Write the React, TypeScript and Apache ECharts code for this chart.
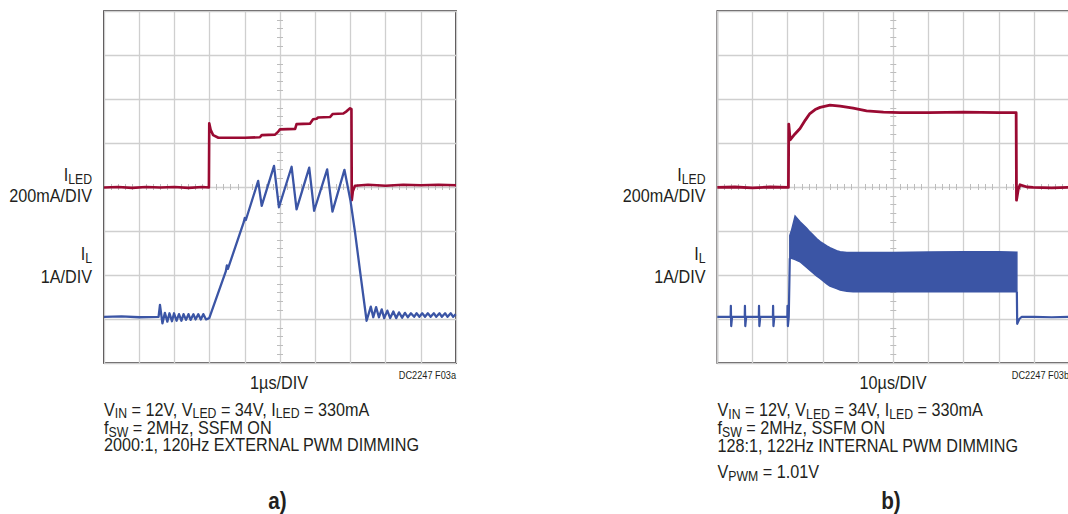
import React, { useEffect, useRef } from "react";
import * as echarts from "echarts";

// ---------- data (divisions: x 0..10, y 0..8 from bottom) ----------
const leftILed: number[][] = [
  [0, 3.99], [0.4, 4.0], [0.8, 3.98], [1.2, 4.0], [1.6, 3.99], [2.0, 4.0], [2.4, 3.98], [2.8, 4.0], [2.98, 3.99],
  [2.99, 5.45], [3.03, 5.3], [3.1, 5.18], [3.25, 5.12], [3.6, 5.12], [4.0, 5.12], [4.43, 5.13], [4.48, 5.18],
  [4.86, 5.19], [4.95, 5.26], [5.0, 5.31], [5.43, 5.32], [5.47, 5.43], [5.85, 5.44], [5.94, 5.54], [6.04, 5.55],
  [6.08, 5.58], [6.42, 5.59], [6.5, 5.66], [6.8, 5.67], [6.89, 5.72], [6.99, 5.79], [7.03, 5.77],
  [7.04, 3.7], [7.07, 3.9], [7.13, 4.03], [7.5, 4.05], [8.0, 4.03], [8.5, 4.05], [9.0, 4.04], [9.5, 4.05], [10, 4.04],
];

const leftIL: number[][] = [
  [0, 1.05], [0.5, 1.06], [1.0, 1.04], [1.55, 1.05],
  [1.59, 1.32], [1.66, 0.9], [1.73, 1.14], [1.8, 0.94], [1.86, 1.13], [1.93, 0.95], [1.99, 1.13], [2.06, 0.96],
  [2.13, 1.11], [2.2, 0.96], [2.26, 1.11], [2.33, 0.98], [2.4, 1.11], [2.46, 0.98], [2.54, 1.11], [2.6, 0.99],
  [2.68, 1.11], [2.75, 0.99], [2.82, 1.11], [2.9, 0.99], [2.99, 1.02],
  [3.46, 2.08], [3.49, 2.22], [3.52, 2.14], [3.97, 3.2], [4.0, 3.3], [4.03, 3.25],
  [4.38, 4.14], [4.48, 3.57], [4.83, 4.48], [4.97, 3.54], [5.33, 4.46], [5.47, 3.49], [5.83, 4.44], [5.97, 3.46],
  [6.34, 4.4], [6.49, 3.44], [6.83, 4.39], [7.0, 3.7], [7.13, 2.98], [7.29, 1.99], [7.46, 0.96],
  [7.58, 1.28], [7.65, 1.04], [7.73, 1.27], [7.81, 1.04], [7.89, 1.22], [7.96, 1.02], [8.05, 1.19], [8.13, 1.02],
  [8.22, 1.17], [8.3, 1.02], [8.38, 1.15], [8.47, 1.03], [8.55, 1.14], [8.63, 1.04], [8.72, 1.13], [8.81, 1.05],
  [8.88, 1.13], [8.96, 1.05], [9.04, 1.13], [9.12, 1.05], [9.2, 1.13], [9.28, 1.05], [9.37, 1.13], [9.44, 1.05],
  [9.53, 1.13], [9.6, 1.05], [9.69, 1.13], [9.76, 1.05], [9.85, 1.13], [9.92, 1.05], [9.99, 1.11],
];

const rightILed: number[][] = [
  [0, 3.99], [0.5, 4.0], [1.0, 3.98], [1.5, 4.0], [2.02, 3.99],
  [2.03, 5.43], [2.07, 5.07], [2.2, 5.2], [2.35, 5.33], [2.5, 5.52], [2.63, 5.67], [2.78, 5.76], [2.92, 5.81],
  [3.2, 5.86], [3.49, 5.84], [3.86, 5.79], [4.24, 5.73], [4.72, 5.7], [5.19, 5.69], [6, 5.69], [7, 5.7], [8, 5.69],
  [8.49, 5.69], [8.5, 3.7], [8.55, 3.95], [8.6, 4.05], [8.8, 4.0], [8.97, 3.99], [9.5, 3.98], [10, 3.99],
];

const rightILPre: number[][] = [
  [0, 1.05], [0.38, 1.05], [0.385, 1.3], [0.395, 0.84], [0.42, 1.05],
  [0.78, 1.05], [0.785, 1.3], [0.795, 0.84], [0.82, 1.05],
  [1.18, 1.05], [1.185, 1.3], [1.195, 0.84], [1.22, 1.05],
  [1.58, 1.05], [1.585, 1.3], [1.595, 0.84], [1.62, 1.05],
  [1.99, 1.05], [1.995, 1.3], [2.005, 0.84], [2.03, 1.05], [2.06, 2.38],
];

const bandX: number[] = [2.06, 2.11, 2.21, 2.35, 2.54, 2.63, 2.82, 2.92, 3.11, 3.2, 3.39, 3.49, 3.68, 3.86, 4.24, 5, 6, 7, 8, 8.51];
const bandUpper: number[] = [2.9, 3.02, 3.34, 3.21, 3.06, 2.98, 2.83, 2.76, 2.66, 2.62, 2.55, 2.53, 2.51, 2.51, 2.51, 2.51, 2.52, 2.53, 2.53, 2.52];
const bandLower: number[] = [2.38, 2.38, 2.35, 2.3, 2.17, 2.11, 1.98, 1.92, 1.8, 1.75, 1.69, 1.66, 1.63, 1.62, 1.62, 1.62, 1.62, 1.62, 1.62, 1.62];

const rightILPost: number[][] = [
  [8.51, 1.62], [8.52, 0.89], [8.58, 1.0], [8.65, 1.05], [9, 1.05], [9.5, 1.04], [10, 1.05],
];

// ---------- styles ----------
const RED = "#9a0a32";
const BLUE = "#3b55a5";
const GRID = "#cfcfcf";
const TICK = "#bdbdbd";
const FRAME = "#231f20";
const INK = "#231f20";
const FONT = "'Liberation Sans', Arial, Helvetica, sans-serif";
const SX = 0.875;

const RICH: any = {
  n: { fontSize: 18.5, fontFamily: FONT, fill: INK, lineHeight: 20 },
  s: { fontSize: 14, fontFamily: FONT, fill: INK, padding: [9, 0, 0, 0] },
  b: { fontSize: 23, fontFamily: FONT, fontWeight: "bold", fill: INK, lineHeight: 24 },
  t: { fontSize: 10, fontFamily: FONT, fill: INK, lineHeight: 11 },
};

function txt(x: number, y: number, text: string, align: string, sx: number = SX) {
  return {
    type: "text",
    x,
    y,
    scaleX: sx,
    silent: true,
    style: { text, align, verticalAlign: "middle", rich: RICH, fontFamily: FONT, fontSize: 18.5, fill: INK },
  };
}

function mainX(g: number) {
  return {
    type: "value", gridIndex: g, min: 0, max: 10, interval: 1,
    axisLine: { show: false, onZero: false }, axisTick: { show: false }, axisLabel: { show: false },
    splitLine: { show: true, lineStyle: { color: GRID, width: 1.3 } },
  };
}
function mainY(g: number) {
  return {
    type: "value", gridIndex: g, min: 0, max: 8, interval: 1,
    axisLine: { show: false, onZero: false }, axisTick: { show: false }, axisLabel: { show: false },
    splitLine: { show: true, lineStyle: { color: GRID, width: 1.3 } },
  };
}
function tickX(g: number, pos: string) {
  return {
    type: "value", gridIndex: g, position: pos, offset: -176, min: 0, max: 10, interval: 1,
    axisLine: { show: false, onZero: false }, axisTick: { show: false }, axisLabel: { show: false },
    splitLine: { show: false },
    minorTick: { show: true, splitNumber: 5, length: 3, lineStyle: { color: TICK, width: 1 } },
  };
}
function tickY(g: number, pos: string) {
  return {
    type: "value", gridIndex: g, position: pos, offset: -176, min: 0, max: 8, interval: 1,
    axisLine: { show: false, onZero: false }, axisTick: { show: false }, axisLabel: { show: false },
    splitLine: { show: false },
    minorTick: { show: true, splitNumber: 5, length: 3, lineStyle: { color: TICK, width: 1 } },
  };
}

function lineSeries(xi: number, data: number[][], color: string, width: number) {
  return {
    type: "line", xAxisIndex: xi, yAxisIndex: xi, data, showSymbol: false, symbol: "none", silent: true,
    lineStyle: { color, width, join: "round" }, clip: true,
  };
}

const option: any = {
  animation: false,
  grid: [
    { left: 104, top: 11, width: 352, height: 352, show: true, borderColor: FRAME, borderWidth: 1.6, outerBoundsMode: "none", containLabel: false },
    { left: 717.3, top: 11, width: 352, height: 352, show: true, borderColor: FRAME, borderWidth: 1.6, outerBoundsMode: "none", containLabel: false },
  ],
  xAxis: [mainX(0), tickX(0, "bottom"), tickX(0, "top"), mainX(1), tickX(1, "bottom"), tickX(1, "top")],
  yAxis: [mainY(0), tickY(0, "left"), tickY(0, "right"), mainY(1), tickY(1, "left"), tickY(1, "right")],
  series: [
    lineSeries(0, leftILed, RED, 2.6),
    lineSeries(0, leftIL, BLUE, 2.3),
    lineSeries(3, rightILed, RED, 2.8),
    lineSeries(3, rightILPre, BLUE, 2.2),
    {
      type: "custom", xAxisIndex: 3, yAxisIndex: 3, silent: true, clip: true,
      data: [[bandX[0], bandUpper[0]]],
      renderItem: (_params: any, api: any) => {
        const top = bandX.map((x, i) => api.coord([x, bandUpper[i]]));
        const bot = bandX.map((x, i) => api.coord([x, bandLower[i]])).reverse();
        return {
          type: "polygon",
          shape: { points: top.concat(bot) },
          style: { fill: BLUE, stroke: BLUE, lineWidth: 1.5 },
        };
      },
    },
    lineSeries(3, rightILPost, BLUE, 2.2),
  ],
  graphic: [
    txt(92, 174.5, "{n|I}{s|LED}", "right"),
    txt(92, 196, "{n|200mA/DIV}", "right"),
    txt(92, 253.7, "{n|I}{s|L}", "right"),
    txt(92, 276.7, "{n|1A/DIV}", "right"),
    txt(279, 382.5, "{n|1µs/DIV}", "center"),
    txt(456, 375, "{t|DC2247 F03a}", "right", 0.92),
    txt(104, 409.2, "{n|V}{s|IN}{n| = 12V, V}{s|LED}{n| = 34V, I}{s|LED}{n| = 330mA}", "left"),
    txt(104, 427.5, "{n|f}{s|SW}{n| = 2MHz, SSFM ON}", "left"),
    txt(104, 444.7, "{n|2000:1, 120Hz EXTERNAL PWM DIMMING}", "left"),
    txt(277.5, 501, "{b|a)}", "center", 0.9),

    txt(705.5, 174.5, "{n|I}{s|LED}", "right"),
    txt(705.5, 196, "{n|200mA/DIV}", "right"),
    txt(705.5, 253.7, "{n|I}{s|L}", "right"),
    txt(705.5, 276.7, "{n|1A/DIV}", "right"),
    txt(893, 382.5, "{n|10µs/DIV}", "center"),
    txt(1069, 375, "{t|DC2247 F03b}", "right", 0.92),
    txt(717.5, 409.5, "{n|V}{s|IN}{n| = 12V, V}{s|LED}{n| = 34V, I}{s|LED}{n| = 330mA}", "left"),
    txt(717.5, 427.5, "{n|f}{s|SW}{n| = 2MHz, SSFM ON}", "left"),
    txt(717.5, 445.5, "{n|128:1, 122Hz INTERNAL PWM DIMMING}", "left"),
    txt(717.5, 472, "{n|V}{s|PWM}{n| = 1.01V}", "left"),
    txt(891, 501, "{b|b)}", "center", 0.9),
  ],
};

export default function App() {
  const ref = useRef<HTMLDivElement>(null);
  useEffect(() => {
    document.body.style.margin = "0";
    const chart = echarts.init(ref.current as HTMLDivElement, null, { renderer: "svg" });
    chart.setOption(option);
    return () => chart.dispose();
  }, []);
  return <div ref={ref} style={{ width: 1068, height: 514 }} />;
}
